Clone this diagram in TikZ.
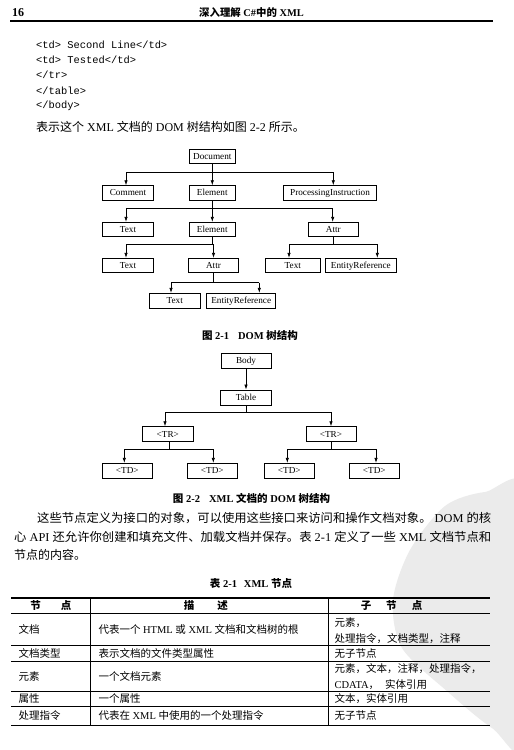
\documentclass[tikz,border=0pt]{standalone}
\usepackage{fontspec}
\usepackage{graphicx}
\usetikzlibrary{arrows.meta}
\setmainfont{Liberation Serif}
\setmonofont{Liberation Mono}
\newfontfamily\cjkfont{Noto Sans CJK SC}
\XeTeXinterchartokenstate=1
\newXeTeXintercharclass\CJKcls
\newcount\cjkcnt
\def\setcjkrange#1#2{\cjkcnt=#1\relax
  \loop \XeTeXcharclass\cjkcnt=\CJKcls\relax
  \ifnum\cjkcnt<#2\relax \advance\cjkcnt by 1 \repeat}
\setcjkrange{"3000}{"303F}
\setcjkrange{"4E00}{"9FFF}
\setcjkrange{"FF00}{"FFEF}
\XeTeXinterchartoks 0 \CJKcls = {\begingroup\cjkfont}
\XeTeXinterchartoks 4095 \CJKcls = {\begingroup\cjkfont}
\XeTeXinterchartoks \CJKcls 0 = {\endgroup}
\XeTeXinterchartoks \CJKcls 4095 = {\endgroup}
\begin{document}
\begin{tikzpicture}[x=1pt,y=-1pt,
  treebox/.style={draw, line width=0.8pt, inner sep=0pt, minimum height=14.4pt,
    text height=6.3pt, text depth=0.6pt,
    font=\fontsize{9.2}{10}\selectfont},
  conn/.style={line width=0.7pt},
  arr/.style={conn, -{Latex[length=5pt,width=3.4pt]}},
  bodytxt/.style={inner sep=0pt, anchor=west, font=\fontsize{12}{14}\selectfont},
  codetxt/.style={inner sep=0pt, anchor=west, font=\fontsize{10.4}{12}\ttfamily},
  figcap/.style={inner sep=0pt, font=\fontsize{10.5}{12}\selectfont\bfseries},
  cell/.style={inner sep=0pt, anchor=west, font=\fontsize{10.5}{12}\selectfont},
  hcell/.style={inner sep=0pt, font=\fontsize{10.5}{12}\selectfont\bfseries},
  tabrule/.style={line width=0.6pt},
  tabthick/.style={line width=1.3pt}]
\useasboundingbox (0,0) rectangle (514,750);
\fill[white] (0,0) rectangle (514,750);
% watermark
\begin{scope}
\clip (0,0) rectangle (514,750);
\fill[black!8] plot[smooth cycle] coordinates {(445,506) (410,550) (393,600) (402,648) (448,692) (492,728) (530,745) (530,495) (485,492)};
\end{scope}

% header
\node[inner sep=0pt, anchor=west, font=\fontsize{12}{14}\selectfont\bfseries] (pg) at (12,13) {16};
\node[inner sep=0pt, font=\fontsize{10.4}{12}\selectfont\bfseries] (ttl) at (251.5,13) {深入理解 C\#中的 XML};
\draw[line width=1.1pt] (10,21) -- (493,21);

% code
\node[codetxt] (c1) at (36,44.3) {<td> Second Line</td>};
\node[codetxt] (c2) at (36,59.6) {<td> Tested</td>};
\node[codetxt] (c3) at (36,75) {</tr>};
\node[codetxt] (c4) at (36,90.4) {</table>};
\node[codetxt] (c5) at (36,105.8) {</body>};
\node[bodytxt] (s1) at (36,126.7) {表示这个 XML 文档的 DOM 树结构如图 2-2 所示。};

% Figure 2-1
\node[treebox, minimum width=46.7pt] (doc) at (212.3,156.2) {Document};
\node[treebox, minimum width=50.6pt] (cm) at (128,192.9) {Comment};
\node[treebox, minimum width=46.7pt] (el1) at (212.3,192.9) {Element};
\node[treebox, minimum width=93.4pt] (pi) at (330,192.9) {ProcessingInstruction};
\node[treebox, minimum width=50.6pt] (tx1) at (128,229.5) {Text};
\node[treebox, minimum width=46.7pt] (el2) at (212.3,229.5) {Element};
\node[treebox, minimum width=50pt] (at1) at (333.3,229.5) {Attr};
\node[treebox, minimum width=50.6pt] (tx2) at (128,265.5) {Text};
\node[treebox, minimum width=50pt] (at2) at (213.5,265.5) {Attr};
\node[treebox, minimum width=54.3pt] (tx3) at (292.8,265.5) {Text};
\node[treebox, minimum width=71.7pt] (er1) at (360.8,265.5) {EntityReference};
\node[treebox, minimum width=50.7pt, minimum height=15pt] (tx4) at (174.7,300.8) {Text};
\node[treebox, minimum width=69pt, minimum height=15pt] (er2) at (241.2,300.8) {EntityReference};

\coordinate (b1l) at (126,172.3);
\coordinate (b1r) at (333.3,172.3);
\draw[arr] (doc) -- (el1);
\draw[conn] (b1l) -- (b1r);
\draw[arr] (b1l) -- (b1l |- cm.north);
\draw[arr] (b1r) -- (b1r |- pi.north);

\coordinate (b2l) at (126,208.7);
\coordinate (b2r) at (332.7,208.7);
\draw[arr] (el1) -- (el2);
\draw[conn] (b2l) -- (b2r);
\draw[arr] (b2l) -- (b2l |- tx1.north);
\draw[arr] (b2r) -- (b2r |- at1.north);

\coordinate (b3l) at (126,244);
\coordinate (b3r) at (213.5,244);
\draw[conn] (el2.south) -- (el2.south |- b3l);
\draw[conn] (b3l) -- (b3r);
\draw[arr] (b3l) -- (b3l |- tx2.north);
\draw[arr] (b3r) -- (b3r |- at2.north);

\coordinate (b4l) at (289,244.3);
\coordinate (b4r) at (377.3,244.3);
\draw[conn] (at1.south) -- (at1.south |- b4l);
\draw[conn] (b4l) -- (b4r);
\draw[arr] (b4l) -- (b4l |- tx3.north);
\draw[arr] (b4r) -- (b4r |- er1.north);

\coordinate (b5l) at (171,282.7);
\coordinate (b5r) at (259.3,282.7);
\draw[conn] (at2.south) -- (at2.south |- b5l);
\draw[conn] (b5l) -- (b5r);
\draw[arr] (b5l) -- (b5l |- tx4.north);
\draw[arr] (b5r) -- (b5r |- er2.north);

\node[figcap] (cap1) at (250,335) {图 2-1\hspace{9pt}DOM 树结构};

% Figure 2-2
\node[treebox, minimum width=50pt, minimum height=15pt] (bd) at (246,360.8) {Body};
\node[treebox, minimum width=51.5pt, minimum height=15pt] (tb) at (246,397.5) {Table};
\node[treebox, minimum width=51pt, minimum height=15pt] (tr1) at (167.8,434.2) {<TR>};
\node[treebox, minimum width=50pt, minimum height=15pt] (tr2) at (331,434.2) {<TR>};
\node[treebox, minimum width=49.3pt, minimum height=15pt] (td1) at (127.3,470.8) {<TD>};
\node[treebox, minimum width=50pt, minimum height=15pt] (td2) at (212.3,470.8) {<TD>};
\node[treebox, minimum width=50pt, minimum height=15pt] (td3) at (289.3,470.8) {<TD>};
\node[treebox, minimum width=50pt, minimum height=15pt] (td4) at (374.3,470.8) {<TD>};

\draw[arr] (bd) -- (tb);
\coordinate (t1l) at (165,412);
\coordinate (t1r) at (331,412);
\draw[conn] (tb.south) -- (tb.south |- t1l);
\draw[conn] (t1l) -- (t1r);
\draw[arr] (t1l) -- (t1l |- tr1.north);
\draw[arr] (t1r) -- (t1r |- tr2.north);

\coordinate (t2l) at (124.3,449.3);
\coordinate (t2r) at (213.3,449.3);
\coordinate (t2s) at (169.3,449.3);
\draw[conn] (t2s |- tr1.south) -- (t2s);
\draw[conn] (t2l) -- (t2r);
\draw[arr] (t2l) -- (t2l |- td1.north);
\draw[arr] (t2r) -- (t2r |- td2.north);

\coordinate (t3l) at (287.3,449.3);
\coordinate (t3r) at (376,449.3);
\draw[conn] (tr2.south) -- (tr2.south |- t3l);
\draw[conn] (t3l) -- (t3r);
\draw[arr] (t3l) -- (t3l |- td3.north);
\draw[arr] (t3r) -- (t3r |- td4.north);

\node[figcap] (cap2) at (251.5,498.3) {图 2-2\hspace{9pt}XML 文档的 DOM 树结构};

% paragraph
\node[bodytxt] (p1) at (37,518.3) {\resizebox{454pt}{\height}{这些节点定义为接口的对象，可以使用这些接口来访问和操作文档对象。 DOM 的核}};
\node[bodytxt] (p2) at (14,536.7) {\resizebox{477pt}{\height}{心 API 还允许你创建和填充文件、加载文档并保存。表 2-1 定义了一些 XML 文档节点和}};
\node[bodytxt] (p3) at (14,555) {节点的内容。};

% table
\node[figcap] (cap3) at (251,583.3) {表 2-1\hspace{7pt}XML 节点};
\draw[tabthick] (11,598) -- (490,598);
\draw[tabrule] (11,613.7) -- (490,613.7);
\draw[tabrule] (11,645.3) -- (490,645.3);
\draw[tabrule] (11,661.3) -- (490,661.3);
\draw[tabrule] (11,691.3) -- (490,691.3);
\draw[tabrule] (11,706.3) -- (490,706.3);
\draw[tabthick] (11,725.3) -- (490,725.3);
\draw[tabrule] (90.7,598) -- (90.7,725.3);
\draw[tabrule] (328.3,598) -- (328.3,725.3);

\node[hcell] (h1) at (51,605.8) {节\hspace{20pt}点};
\node[hcell] (h2) at (205.8,605.8) {描\hspace{23pt}述};
\node[hcell] (h3) at (391.5,605.8) {子\hspace{15pt}节\hspace{15pt}点};

\node[cell] (r1a) at (18.3,629.5) {文档};
\node[cell] (r1b) at (98.3,629.5) {代表一个 HTML 或 XML 文档和文档树的根};
\node[cell] (r1c) at (334.3,622.8) {元素，};
\node[cell] (r1d) at (334.3,638.3) {处理指令，文档类型，注释};

\node[cell] (r2a) at (18.3,653.3) {文档类型};
\node[cell] (r2b) at (98.3,653.3) {表示文档的文件类型属性};
\node[cell] (r2c) at (334.3,653.3) {无子节点};

\node[cell] (r3a) at (18.3,676.3) {元素};
\node[cell] (r3b) at (98.3,676.3) {一个文档元素};
\node[cell] (r3c) at (334.3,669) {元素，文本，注释，处理指令，};
\node[cell] (r3d) at (334.3,684.3) {CDATA，\hspace{6pt}实体引用};

\node[cell] (r4a) at (18.3,698.8) {属性};
\node[cell] (r4b) at (98.3,698.8) {一个属性};
\node[cell] (r4c) at (334.3,698.8) {文本，实体引用};

\node[cell] (r5a) at (18.3,715.8) {处理指令};
\node[cell] (r5b) at (98.3,715.8) {代表在 XML 中使用的一个处理指令};
\node[cell] (r5c) at (334.3,715.8) {无子节点};
\end{tikzpicture}
\end{document}
